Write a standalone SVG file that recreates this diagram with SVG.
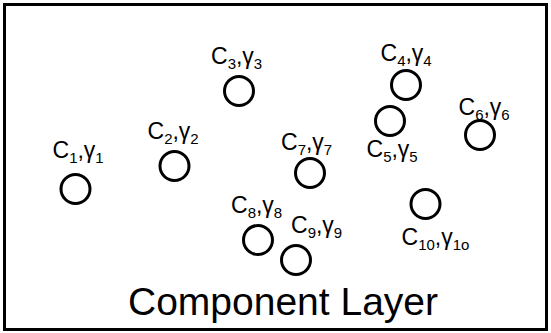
<svg xmlns="http://www.w3.org/2000/svg" width="551" height="333" viewBox="0 0 551 333">
<style>
.c{fill:none;stroke:#000;stroke-width:3}
.t{font-family:"Liberation Sans",Arial,sans-serif;font-size:23px;fill:#000}
.s{font-size:15px}
.title{font-family:"Liberation Sans",Arial,sans-serif;font-size:39px;fill:#000}
</style>
<rect x="4.5" y="4.5" width="542" height="325" fill="#fff" stroke="#000" stroke-width="3"/>
<g id="connectors"></g>
<g id="n1"><circle class="c" cx="75.5" cy="189" r="14.5"/><text class="t" x="52.5" y="158">C<tspan class="s" dy="5">1</tspan><tspan dy="-5">,γ</tspan><tspan class="s" dy="5">1</tspan></text></g>
<g id="n2"><circle class="c" cx="174.5" cy="166" r="14.5"/><text class="t" x="147.5" y="139">C<tspan class="s" dy="5">2</tspan><tspan dy="-5">,γ</tspan><tspan class="s" dy="5">2</tspan></text></g>
<g id="n3"><circle class="c" cx="239" cy="91" r="14.5"/><text class="t" x="211" y="64">C<tspan class="s" dy="5">3</tspan><tspan dy="-5">,γ</tspan><tspan class="s" dy="5">3</tspan></text></g>
<g id="n4"><circle class="c" cx="406" cy="85" r="14.5"/><text class="t" x="380.5" y="61">C<tspan class="s" dy="5">4</tspan><tspan dy="-5">,γ</tspan><tspan class="s" dy="5">4</tspan></text></g>
<g id="n5"><circle class="c" cx="390" cy="121" r="14.5"/><text class="t" x="366.5" y="157">C<tspan class="s" dy="5">5</tspan><tspan dy="-5">,γ</tspan><tspan class="s" dy="5">5</tspan></text></g>
<g id="n6"><circle class="c" cx="480" cy="135" r="14.5"/><text class="t" x="458.5" y="115">C<tspan class="s" dy="5">6</tspan><tspan dy="-5">,γ</tspan><tspan class="s" dy="5">6</tspan></text></g>
<g id="n7"><circle class="c" cx="310" cy="173" r="14.5"/><text class="t" x="281" y="150">C<tspan class="s" dy="5">7</tspan><tspan dy="-5">,γ</tspan><tspan class="s" dy="5">7</tspan></text></g>
<g id="n8"><circle class="c" cx="258" cy="240" r="14.5"/><text class="t" x="231" y="213">C<tspan class="s" dy="5">8</tspan><tspan dy="-5">,γ</tspan><tspan class="s" dy="5">8</tspan></text></g>
<g id="n9"><circle class="c" cx="296" cy="260" r="14.5"/><text class="t" x="291" y="233">C<tspan class="s" dy="5">9</tspan><tspan dy="-5">,γ</tspan><tspan class="s" dy="5">9</tspan></text></g>
<g id="n10"><circle class="c" cx="425.5" cy="204" r="14.5"/><text class="t" x="401.5" y="245">C<tspan class="s" dy="5">10</tspan><tspan dy="-5">,γ</tspan><tspan class="s" dy="5">1o</tspan></text></g>
<text class="title" x="128" y="315">Component Layer</text>
</svg>
